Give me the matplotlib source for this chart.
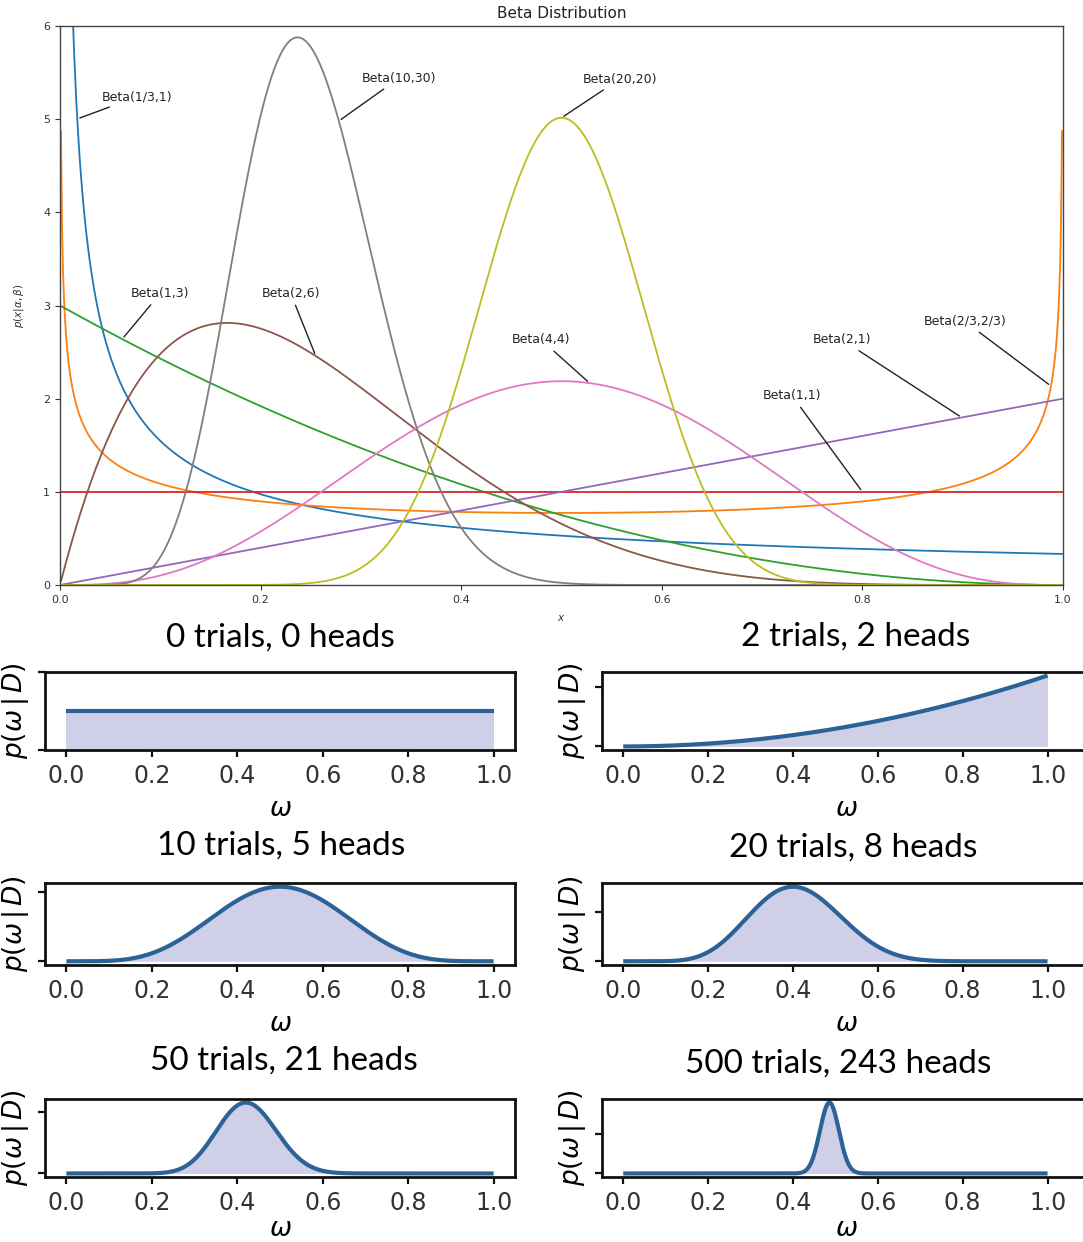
import math
import numpy as np
import matplotlib
matplotlib.use("Agg")
import matplotlib.pyplot as plt

# Tamaño de la figura en píxeles
W, H = 1083, 1242

# --- Datos: panel superior (distribuciones Beta) ---
beta_labels = ['Beta(1/3,1)', 'Beta(2/3,2/3)', 'Beta(1,3)', 'Beta(1,1)', 'Beta(2,1)',
               'Beta(2,6)', 'Beta(4,4)', 'Beta(10,30)', 'Beta(20,20)']
beta_a = [1/3, 2/3, 1, 1, 2, 2, 4, 10, 20]
beta_b = [1, 2/3, 3, 1, 1, 6, 4, 30, 20]
# punto de la curva señalado por cada etiqueta (x) y posición del texto (x, y)
label_point_x = [0.0172, 0.988, 0.062, 0.80, 0.899, 0.255, 0.528, 0.278, 0.50]
label_text_x = [0.077, 0.902, 0.100, 0.730, 0.780, 0.230, 0.480, 0.338, 0.558]
label_text_y = [5.24, 2.83, 3.13, 2.03, 2.63, 3.13, 2.63, 5.44, 5.43]
top_xticks = [0.0, 0.2, 0.4, 0.6, 0.8, 1.0]
top_yticks = [0, 1, 2, 3, 4, 5, 6]

# --- Datos: paneles inferiores (posterior con prior uniforme) ---
trials = [0, 2, 10, 20, 50, 500]
heads = [0, 2, 5, 8, 21, 243]
small_yticks = [[0, 2], [0, 2.5], [0, 2.5], [0, 2.5], [0, 5], [0, 10]]
small_xticks = [0.0, 0.2, 0.4, 0.6, 0.8, 1.0]


def beta_pdf(x, a, b):
    logB = math.lgamma(a) + math.lgamma(b) - math.lgamma(a + b)
    with np.errstate(divide='ignore', invalid='ignore'):
        return np.power(x, a - 1) * np.power(1 - x, b - 1) / math.exp(logB)


def px_axes(fig, x0, x1, y0, y1):
    return fig.add_axes([x0 / W, 1 - y1 / H, (x1 - x0) / W, (y1 - y0) / H])


fig = plt.figure(figsize=(W / 100, H / 100), dpi=100)

# ---------------- Panel superior ----------------
ax = px_axes(fig, 60, 1063, 26, 585)
x = np.linspace(0.001, 0.999, 999)
for i, lab in enumerate(beta_labels):
    ax.plot(x, beta_pdf(x, beta_a[i], beta_b[i]), color=f'C{i}', lw=1.3)
for i, lab in enumerate(beta_labels):
    px = label_point_x[i]
    py = float(beta_pdf(np.array(px), beta_a[i], beta_b[i]))
    ax.annotate(lab, xy=(px, py), xytext=(label_text_x[i], label_text_y[i]),
                ha='center', va='center', fontsize=9, color='#222222',
                arrowprops=dict(arrowstyle='-', color='#222222', lw=1.0))
ax.set_xlim(0, 1)
ax.set_ylim(0, 6)
ax.set_xticks(top_xticks)
ax.set_yticks(top_yticks)
ax.tick_params(labelsize=8, colors='#333333', length=3.5, width=0.8)
for s in ax.spines.values():
    s.set_color('#444444')
    s.set_linewidth(1.0)
ax.set_title('Beta Distribution', fontsize=11, color='#222222', pad=6)
ax.set_xlabel('$x$', fontsize=7.5, color='#333333', labelpad=6)
ax.set_ylabel(r'$p(x|\alpha,\beta)$', fontsize=7.5, color='#333333', labelpad=12)

# ---------------- Paneles inferiores ----------------
col_x = [(45, 515, -0.05, 1.05), (602, 1090, -0.05, 1.10)]
row_y = [(672, 750), (883, 965), (1099, 1177)]
xlabel_pad = [6, 6, 1]
title_pos = [(280, 638), (856, 637), (281, 846), (853, 848), (284, 1061), (838, 1064)]

xs = np.linspace(0, 1, 501)
for k in range(6):
    r, c = divmod(k, 2)
    x0, x1, xl0, xl1 = col_x[c]
    y0, y1 = row_y[r]
    a = px_axes(fig, x0, x1, y0, y1)
    p = beta_pdf(xs, 1 + heads[k], 1 + trials[k] - heads[k])
    a.fill_between(xs, 0, p, color='#cfd0e8', lw=0)
    a.plot(xs, p, color='#2b6396', lw=3, solid_capstyle='butt')
    a.set_xlim(xl0, xl1)
    if trials[k] == 0:
        a.set_ylim(0, 2)
    else:
        a.set_ylim(-0.05 * p.max(), 1.05 * p.max())
    a.set_xticks(small_xticks)
    a.set_yticks(small_yticks[k])
    a.set_yticklabels([])
    a.tick_params(labelsize=17, colors='#111111', labelcolor='#333333',
                  length=5, width=1.6, pad=5)
    for s in a.spines.values():
        s.set_color('#111111')
        s.set_linewidth(2.0)
    a.set_xlabel(r'$\omega$', fontsize=19, labelpad=xlabel_pad[r])
    a.set_ylabel(r'$p(\omega\,|\,D)$', fontsize=19, labelpad=0)
    tx, ty = title_pos[k]
    fig.text(tx / W, 1 - ty / H, f'{trials[k]} trials, {heads[k]} heads',
             ha='center', va='center', fontsize=24, family='Lato')

fig.savefig('out.png', dpi=100)
